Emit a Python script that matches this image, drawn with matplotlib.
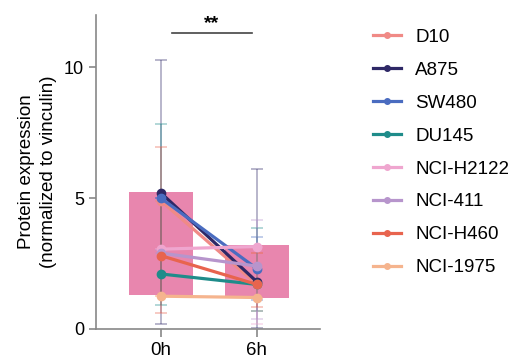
import numpy as np
import matplotlib.pyplot as plt

plt.rcParams['font.family'] = ['Liberation Sans', 'DejaVu Sans']

# data
timepoints = ['0h', '6h']
cell_lines = ['D10', 'A875', 'SW480', 'DU145', 'NCI-H2122', 'NCI-411', 'NCI-H460', 'NCI-1975']
colors = ['#F08A86', '#2E2866', '#4A6CC0', '#1F8C8A', '#EFA6CF', '#B795CC', '#E8644E', '#F5B48E']

val_0h = [4.9, 5.2, 5.0, 2.1, 3.05, 2.9, 2.8, 1.25]
val_6h = [1.7, 1.8, 2.3, 1.7, 3.15, 2.4, 1.7, 1.2]

# error bar ends (top / bottom)
top_0h = [4.9, 10.3, 5.0, 7.85, 3.05, 3.0, 6.95, 1.25]
bot_0h = [4.9, 0.2, 5.0, 0.9, 3.05, 2.9, 0.6, 1.25]
top_6h = [2.9, 6.1, 3.5, 3.85, 3.15, 4.15, 2.9, 1.2]
bot_6h = [0.7, 0.05, 1.1, 0.7, 0.2, 0.38, 0.85, 1.2]

# floating bars (range)
bar_lo = [1.28, 1.2]
bar_hi = [5.25, 3.2]

fig = plt.figure(figsize=(5.27, 3.61), dpi=100)
ax = fig.add_axes([0.182, 0.089, 0.425, 0.869])

x = np.arange(len(timepoints))
ax.bar(x, np.array(bar_hi) - np.array(bar_lo), bottom=bar_lo, width=0.67,
       color='#E886AE', zorder=1, linewidth=0)

for i, name in enumerate(cell_lines):
    vals = [val_0h[i], val_6h[i]]
    tops = [top_0h[i], top_6h[i]]
    bots = [bot_0h[i], bot_6h[i]]
    yerr = [np.array(vals) - np.array(bots), np.array(tops) - np.array(vals)]
    ax.errorbar(x, vals, yerr=yerr, fmt='none', ecolor=colors[i], alpha=0.4,
                elinewidth=1.2, capsize=4, capthick=1.2, zorder=2)
    ax.plot(x, vals, '-o', color=colors[i], lw=2.3, ms=6, zorder=3, label=name)

# significance
ax.plot([0.12, 0.95], [11.33, 11.33], color='#444444', lw=1.2, clip_on=False)
ax.text(0.53, 11.35, '**', ha='center', va='bottom', fontsize=14, fontweight='bold')

ax.set_xlim(-0.677, 1.656)
ax.set_ylim(0, 12)
ax.set_yticks([0, 5, 10])
ax.set_xticks(x)
ax.set_xticklabels(timepoints)
ax.tick_params(labelsize=13, color='#888888', length=5, width=1.2)
ax.tick_params(axis='x', labelsize=13.5, length=6)
for s in ['top', 'right']:
    ax.spines[s].set_visible(False)
for s in ['left', 'bottom']:
    ax.spines[s].set_color('#888888')
    ax.spines[s].set_linewidth(1.2)
ax.set_ylabel('Protein expression\n(normalized to vinculin)', fontsize=13.5,
              labelpad=5, linespacing=1.4)

leg_handles = [plt.Line2D([], [], color=c, lw=2.3, marker='o', ms=4) for c in colors]
fig.legend(leg_handles, cell_lines, loc='upper left', bbox_to_anchor=(0.708, 0.92),
           frameon=False, fontsize=13.5, handlelength=1.5, labelspacing=0.84,
           handletextpad=0.75, borderpad=0, borderaxespad=0)

fig.savefig('out.png', dpi=100)
